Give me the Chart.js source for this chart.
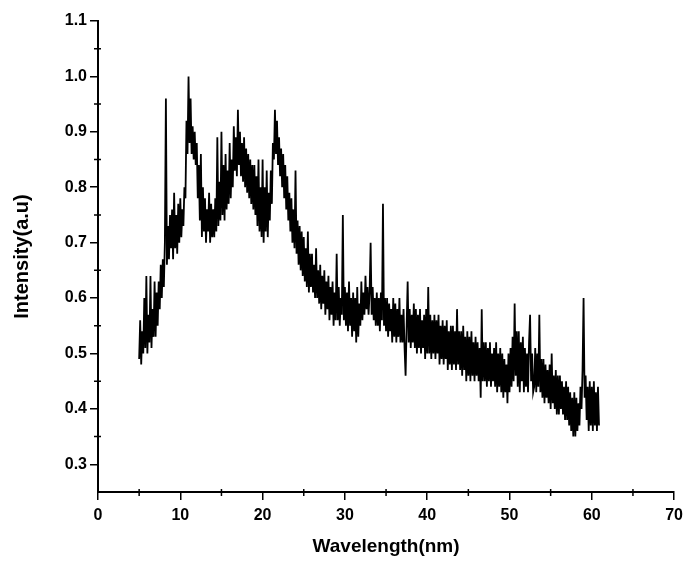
<!DOCTYPE html>
<html lang="en">
<head>
    <meta charset="UTF-8">
    <title>Intensity vs Wavelength</title>
    <script src="https://cdn.jsdelivr.net/npm/chart.js"></script>
    <style>
        html, body { margin: 0; padding: 0; background: #fff; }
        #wrap { width: 689px; height: 562px; }
    </style>
</head>
<body>

    <div id="wrap">
        <canvas id="spectrumChart" width="689" height="562"></canvas>
    </div>

    <script>
        // wavelength (nm), read every 0.125 nm (one row per nm)
        var wavelength = [
            5, 5.125, 5.25, 5.375, 5.5, 5.625, 5.75, 5.875,
            6, 6.125, 6.25, 6.375, 6.5, 6.625, 6.75, 6.875,
            7, 7.125, 7.25, 7.375, 7.5, 7.625, 7.75, 7.875,
            8, 8.125, 8.25, 8.375, 8.5, 8.625, 8.75, 8.875,
            9, 9.125, 9.25, 9.375, 9.5, 9.625, 9.75, 9.875,
            10, 10.125, 10.25, 10.375, 10.5, 10.625, 10.75, 10.875,
            11, 11.125, 11.25, 11.375, 11.5, 11.625, 11.75, 11.875,
            12, 12.125, 12.25, 12.375, 12.5, 12.625, 12.75, 12.875,
            13, 13.125, 13.25, 13.375, 13.5, 13.625, 13.75, 13.875,
            14, 14.125, 14.25, 14.375, 14.5, 14.625, 14.75, 14.875,
            15, 15.125, 15.25, 15.375, 15.5, 15.625, 15.75, 15.875,
            16, 16.125, 16.25, 16.375, 16.5, 16.625, 16.75, 16.875,
            17, 17.125, 17.25, 17.375, 17.5, 17.625, 17.75, 17.875,
            18, 18.125, 18.25, 18.375, 18.5, 18.625, 18.75, 18.875,
            19, 19.125, 19.25, 19.375, 19.5, 19.625, 19.75, 19.875,
            20, 20.125, 20.25, 20.375, 20.5, 20.625, 20.75, 20.875,
            21, 21.125, 21.25, 21.375, 21.5, 21.625, 21.75, 21.875,
            22, 22.125, 22.25, 22.375, 22.5, 22.625, 22.75, 22.875,
            23, 23.125, 23.25, 23.375, 23.5, 23.625, 23.75, 23.875,
            24, 24.125, 24.25, 24.375, 24.5, 24.625, 24.75, 24.875,
            25, 25.125, 25.25, 25.375, 25.5, 25.625, 25.75, 25.875,
            26, 26.125, 26.25, 26.375, 26.5, 26.625, 26.75, 26.875,
            27, 27.125, 27.25, 27.375, 27.5, 27.625, 27.75, 27.875,
            28, 28.125, 28.25, 28.375, 28.5, 28.625, 28.75, 28.875,
            29, 29.125, 29.25, 29.375, 29.5, 29.625, 29.75, 29.875,
            30, 30.125, 30.25, 30.375, 30.5, 30.625, 30.75, 30.875,
            31, 31.125, 31.25, 31.375, 31.5, 31.625, 31.75, 31.875,
            32, 32.125, 32.25, 32.375, 32.5, 32.625, 32.75, 32.875,
            33, 33.125, 33.25, 33.375, 33.5, 33.625, 33.75, 33.875,
            34, 34.125, 34.25, 34.375, 34.5, 34.625, 34.75, 34.875,
            35, 35.125, 35.25, 35.375, 35.5, 35.625, 35.75, 35.875,
            36, 36.125, 36.25, 36.375, 36.5, 36.625, 36.75, 36.875,
            37, 37.125, 37.25, 37.375, 37.5, 37.625, 37.75, 37.875,
            38, 38.125, 38.25, 38.375, 38.5, 38.625, 38.75, 38.875,
            39, 39.125, 39.25, 39.375, 39.5, 39.625, 39.75, 39.875,
            40, 40.125, 40.25, 40.375, 40.5, 40.625, 40.75, 40.875,
            41, 41.125, 41.25, 41.375, 41.5, 41.625, 41.75, 41.875,
            42, 42.125, 42.25, 42.375, 42.5, 42.625, 42.75, 42.875,
            43, 43.125, 43.25, 43.375, 43.5, 43.625, 43.75, 43.875,
            44, 44.125, 44.25, 44.375, 44.5, 44.625, 44.75, 44.875,
            45, 45.125, 45.25, 45.375, 45.5, 45.625, 45.75, 45.875,
            46, 46.125, 46.25, 46.375, 46.5, 46.625, 46.75, 46.875,
            47, 47.125, 47.25, 47.375, 47.5, 47.625, 47.75, 47.875,
            48, 48.125, 48.25, 48.375, 48.5, 48.625, 48.75, 48.875,
            49, 49.125, 49.25, 49.375, 49.5, 49.625, 49.75, 49.875,
            50, 50.125, 50.25, 50.375, 50.5, 50.625, 50.75, 50.875,
            51, 51.125, 51.25, 51.375, 51.5, 51.625, 51.75, 51.875,
            52, 52.125, 52.25, 52.375, 52.5, 52.625, 52.75, 52.875,
            53, 53.125, 53.25, 53.375, 53.5, 53.625, 53.75, 53.875,
            54, 54.125, 54.25, 54.375, 54.5, 54.625, 54.75, 54.875,
            55, 55.125, 55.25, 55.375, 55.5, 55.625, 55.75, 55.875,
            56, 56.125, 56.25, 56.375, 56.5, 56.625, 56.75, 56.875,
            57, 57.125, 57.25, 57.375, 57.5, 57.625, 57.75, 57.875,
            58, 58.125, 58.25, 58.375, 58.5, 58.625, 58.75, 58.875,
            59, 59.125, 59.25, 59.375, 59.5, 59.625, 59.75, 59.875,
            60, 60.125, 60.25, 60.375, 60.5, 60.625, 60.75, 60.875
        ];

        // intensity (a.u), one value per wavelength above
        var intensity = [
            0.49, 0.56, 0.48, 0.54, 0.50, 0.60, 0.51, 0.64,
            0.50, 0.57, 0.52, 0.64, 0.51, 0.58, 0.53, 0.63,
            0.53, 0.61, 0.55, 0.63, 0.58, 0.66, 0.60, 0.67,
            0.62, 0.70, 0.96, 0.66, 0.73, 0.67, 0.75, 0.69,
            0.76, 0.67, 0.79, 0.69, 0.75, 0.68, 0.77, 0.70,
            0.78, 0.71, 0.76, 0.73, 0.80, 0.78, 0.92, 0.86,
            1.00, 0.88, 0.96, 0.86, 0.91, 0.85, 0.90, 0.84,
            0.88, 0.78, 0.84, 0.74, 0.86, 0.71, 0.80, 0.72,
            0.78, 0.70, 0.76, 0.72, 0.79, 0.70, 0.77, 0.71,
            0.76, 0.71, 0.78, 0.72, 0.89, 0.73, 0.81, 0.74,
            0.90, 0.75, 0.84, 0.74, 0.86, 0.76, 0.83, 0.77,
            0.88, 0.78, 0.85, 0.80, 0.91, 0.83, 0.89, 0.82,
            0.94, 0.84, 0.90, 0.82, 0.88, 0.81, 0.89, 0.80,
            0.87, 0.79, 0.86, 0.78, 0.85, 0.77, 0.84, 0.76,
            0.84, 0.75, 0.82, 0.73, 0.85, 0.72, 0.80, 0.71,
            0.85, 0.70, 0.80, 0.72, 0.83, 0.71, 0.79, 0.74,
            0.83, 0.77, 0.88, 0.85, 0.94, 0.86, 0.92, 0.84,
            0.89, 0.82, 0.87, 0.80, 0.86, 0.78, 0.84, 0.76,
            0.82, 0.74, 0.79, 0.72, 0.78, 0.70, 0.76, 0.69,
            0.83, 0.68, 0.74, 0.66, 0.73, 0.65, 0.72, 0.64,
            0.71, 0.63, 0.69, 0.62, 0.72, 0.61, 0.68, 0.62,
            0.68, 0.61, 0.66, 0.60, 0.69, 0.60, 0.65, 0.59,
            0.66, 0.58, 0.64, 0.59, 0.65, 0.57, 0.63, 0.58,
            0.64, 0.56, 0.62, 0.57, 0.63, 0.55, 0.61, 0.56,
            0.68, 0.56, 0.62, 0.55, 0.60, 0.57, 0.75, 0.56,
            0.62, 0.55, 0.61, 0.54, 0.63, 0.55, 0.60, 0.53,
            0.61, 0.54, 0.60, 0.52, 0.62, 0.53, 0.59, 0.55,
            0.63, 0.56, 0.61, 0.57, 0.64, 0.58, 0.62, 0.57,
            0.61, 0.70, 0.57, 0.62, 0.56, 0.60, 0.55, 0.61,
            0.55, 0.60, 0.54, 0.61, 0.56, 0.77, 0.55, 0.60,
            0.54, 0.60, 0.53, 0.59, 0.54, 0.58, 0.52, 0.60,
            0.53, 0.59, 0.52, 0.58, 0.53, 0.60, 0.52, 0.57,
            0.52, 0.58, 0.51, 0.46, 0.55, 0.63, 0.52, 0.58,
            0.51, 0.57, 0.52, 0.59, 0.51, 0.58, 0.50, 0.57,
            0.51, 0.58, 0.50, 0.56, 0.51, 0.57, 0.49, 0.58,
            0.50, 0.62, 0.50, 0.57, 0.49, 0.56, 0.50, 0.57,
            0.49, 0.56, 0.50, 0.57, 0.48, 0.55, 0.49, 0.56,
            0.48, 0.55, 0.49, 0.56, 0.47, 0.54, 0.48, 0.55,
            0.47, 0.55, 0.48, 0.54, 0.47, 0.58, 0.48, 0.54,
            0.47, 0.54, 0.46, 0.55, 0.47, 0.53, 0.45, 0.54,
            0.46, 0.53, 0.45, 0.54, 0.46, 0.52, 0.45, 0.53,
            0.46, 0.52, 0.45, 0.51, 0.42, 0.58, 0.45, 0.52,
            0.45, 0.52, 0.44, 0.51, 0.45, 0.52, 0.44, 0.50,
            0.45, 0.51, 0.44, 0.52, 0.43, 0.50, 0.44, 0.51,
            0.43, 0.50, 0.42, 0.49, 0.43, 0.48, 0.41, 0.50,
            0.43, 0.51, 0.44, 0.53, 0.45, 0.59, 0.46, 0.54,
            0.44, 0.54, 0.43, 0.52, 0.45, 0.53, 0.43, 0.51,
            0.44, 0.50, 0.43, 0.52, 0.57, 0.45, 0.50, 0.43,
            0.44, 0.51, 0.43, 0.50, 0.44, 0.57, 0.43, 0.49,
            0.42, 0.49, 0.41, 0.48, 0.42, 0.47, 0.41, 0.48,
            0.40, 0.50, 0.41, 0.46, 0.40, 0.47, 0.39, 0.46,
            0.39, 0.46, 0.40, 0.45, 0.39, 0.44, 0.38, 0.45,
            0.38, 0.44, 0.37, 0.43, 0.36, 0.42, 0.35, 0.43,
            0.35, 0.42, 0.36, 0.41, 0.37, 0.44, 0.40, 0.47,
            0.60, 0.42, 0.46, 0.38, 0.44, 0.36, 0.45, 0.37,
            0.44, 0.36, 0.45, 0.37, 0.43, 0.36, 0.44, 0.37
        ];

        var xTicks = [0, 10, 20, 30, 40, 50, 60, 70];
        var xMinor = [5, 15, 25, 35, 45, 55, 65];
        var yTicks = [0.3, 0.4, 0.5, 0.6, 0.7, 0.8, 0.9, 1.0, 1.1];
        var yMinor = [0.35, 0.45, 0.55, 0.65, 0.75, 0.85, 0.95, 1.05];

        var points = wavelength.map(function (w, i) {
            return { x: w, y: intensity[i] };
        });

        // short minor ticks that cross the axis lines
        var minorTicks = {
            id: 'minorTicks',
            afterDraw: function (chart) {
                var c = chart.ctx;
                var xs = chart.scales.x, ys = chart.scales.y;
                var area = chart.chartArea;
                c.save();
                c.strokeStyle = '#000';
                c.lineWidth = 1.5;
                c.beginPath();
                xMinor.forEach(function (v) {
                    var px = xs.getPixelForValue(v);
                    c.moveTo(px, area.bottom - 3);
                    c.lineTo(px, area.bottom + 4);
                });
                yMinor.forEach(function (v) {
                    var py = ys.getPixelForValue(v);
                    c.moveTo(area.left - 4, py);
                    c.lineTo(area.left + 3, py);
                });
                c.stroke();
                c.restore();
            }
        };

        var tickFont = { family: 'Liberation Sans, Arial, sans-serif', size: 16, weight: 'bold' };

        var ctx = document.getElementById('spectrumChart').getContext('2d');
        var spectrumChart = new Chart(ctx, {
            type: 'line',
            data: {
                datasets: [{
                    label: 'Intensity',
                    data: points,
                    borderColor: '#000',
                    borderWidth: 1.8,
                    borderJoinStyle: 'miter',
                    pointRadius: 0,
                    tension: 0,
                    fill: false
                }]
            },
            options: {
                responsive: false,
                animation: false,
                layout: { padding: { top: 21, right: 11, left: 0, bottom: 0 } },
                plugins: {
                    legend: { display: false },
                    tooltip: { enabled: false }
                },
                scales: {
                    x: {
                        type: 'linear',
                        min: 0,
                        max: 70,
                        afterBuildTicks: function (scale) {
                            scale.ticks = xTicks.map(function (v) { return { value: v }; });
                        },
                        afterFit: function (scale) { scale.height = 70; },
                        border: { display: true, color: '#000', width: 2 },
                        grid: { drawOnChartArea: false, drawTicks: true, tickLength: 8, color: '#000', lineWidth: 1.5 },
                        ticks: {
                            color: '#000',
                            font: tickFont,
                            padding: 6,
                            maxRotation: 0,
                            callback: function (v) { return v; }
                        },
                        title: {
                            display: true,
                            text: 'Wavelength(nm)',
                            color: '#000',
                            font: { family: 'Liberation Sans, Arial, sans-serif', size: 19, weight: 'bold' },
                            padding: { top: 0, bottom: 4 }
                        }
                    },
                    y: {
                        type: 'linear',
                        min: 0.25,
                        max: 1.1,
                        afterBuildTicks: function (scale) {
                            scale.ticks = yTicks.map(function (v) { return { value: v }; });
                        },
                        afterFit: function (scale) { scale.width = 98; },
                        border: { display: true, color: '#000', width: 2 },
                        grid: { drawOnChartArea: false, drawTicks: true, tickLength: 8, color: '#000', lineWidth: 1.5 },
                        ticks: {
                            color: '#000',
                            font: tickFont,
                            padding: 3,
                            callback: function (v) { return v.toFixed(1); }
                        },
                        title: {
                            display: true,
                            text: 'Intensity(a.u)',
                            color: '#000',
                            font: { family: 'Liberation Sans, Arial, sans-serif', size: 20, weight: 'bold' },
                            padding: { top: 10, bottom: 0 }
                        }
                    }
                }
            },
            plugins: [minorTicks]
        });
    </script>

</body>
</html>
